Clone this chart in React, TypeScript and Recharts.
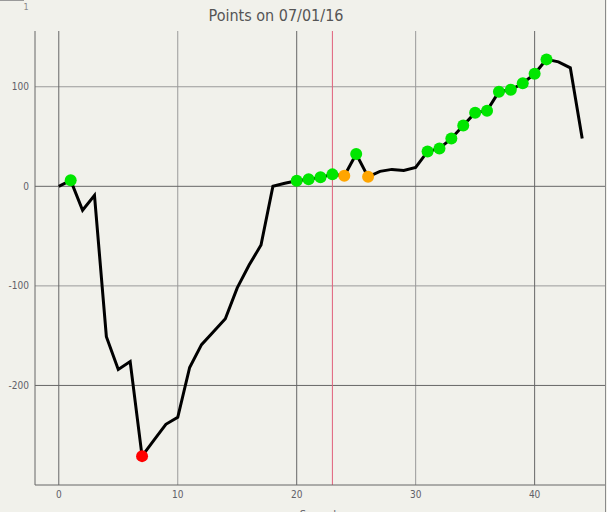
import React from 'react';
import { LineChart, Line, XAxis, YAxis, ReferenceLine } from 'recharts';

// seconds 0..44 and the points reading at each second
const seconds = [
  0, 1, 2, 3, 4, 5, 6, 7, 8, 9, 10, 11, 12, 13, 14, 15, 16, 17, 18, 19, 20, 21,
  22, 23, 24, 25, 26, 27, 28, 29, 30, 31, 32, 33, 34, 35, 36, 37, 38, 39, 40, 41,
  42, 43, 44,
];
const points = [
  0, 6, -24, -9, -151, -184, -176, -271, -255, -239, -232, -182, -159, -146, -133,
  -102, -79, -59, 0, 3, 5.5, 7, 9, 12, 10.5, 32.5, 9.5, 15, 17, 16, 19, 35, 38, 48,
  61, 74, 76, 95, 97, 103.5, 113, 127.5, 125, 119, 48,
];

// which seconds carry a marker
const greenAt = [1, 20, 21, 22, 23, 25, 31, 32, 33, 34, 35, 36, 37, 38, 39, 40, 41];
const orangeAt = [24, 26];
const redAt = [7];

const xTicks = [0, 10, 20, 30, 40];
const yTicks = [-200, -100, 0, 100];
const xMajor = [0, 20, 40];
const xMinor = [10, 30];
const yMajor = [0, -200];
const yMinor = [100, -100];
const cursorAt = 23;

const data = seconds.map((x, i) => ({ x, y: points[i] }));

const BG = '#f1f1eb';
const FONT = '"DejaVu Sans Condensed", "Liberation Sans", sans-serif';

const markColor = (x: number) => {
  if (greenAt.includes(x)) return '#00e600';
  if (orangeAt.includes(x)) return '#ffa500';
  if (redAt.includes(x)) return '#ff0000';
  return null;
};

const renderDot = (props: any) => {
  const c = markColor(props.payload.x);
  if (!c) return <g key={`d-${props.index}`} />;
  return <circle key={`d-${props.index}`} cx={props.cx} cy={props.cy} r={6} fill={c} />;
};

const tickStyle = { fill: '#606068', fontSize: 10, fontFamily: FONT };

export default function App() {
  return (
    <div
      style={{
        position: 'absolute',
        left: 0,
        top: 0,
        width: 607,
        height: 512,
        background: BG,
        overflow: 'hidden',
      }}
    >
      <div style={{ position: 'absolute', left: 0, top: 0, width: 24, height: 1, background: '#9a9a9a' }} />
      <div
        style={{
          position: 'absolute',
          left: 16,
          top: 2,
          width: 20,
          textAlign: 'center',
          fontFamily: FONT,
          fontSize: 9,
          lineHeight: '10px',
          color: '#8a8a8a',
        }}
      >
        1
      </div>
      <div
        style={{
          position: 'absolute',
          left: 176,
          top: 7,
          width: 200,
          textAlign: 'center',
          fontFamily: FONT,
          fontSize: 16,
          lineHeight: '17px',
          color: '#555',
        }}
      >
        Points on 07/01/16
      </div>
      <LineChart width={607} height={512} data={data} margin={{ top: 31, right: 1, bottom: 0, left: 0 }}>
        {xMinor.map((v) => (
          <ReferenceLine key={`xm${v}`} x={v} stroke="#9a9a9a" strokeWidth={1} zIndex={-50} />
        ))}
        {yMinor.map((v) => (
          <ReferenceLine key={`ym${v}`} y={v} stroke="#9a9a9a" strokeWidth={1} zIndex={-50} />
        ))}
        {xMajor.map((v) => (
          <ReferenceLine key={`xM${v}`} x={v} stroke="#666" strokeWidth={1} zIndex={-50} />
        ))}
        {yMajor.map((v) => (
          <ReferenceLine key={`yM${v}`} y={v} stroke="#666" strokeWidth={1} zIndex={-50} />
        ))}
        <ReferenceLine x={cursorAt} stroke="#e0607a" strokeWidth={1} zIndex={-50} />
        <XAxis
          dataKey="x"
          type="number"
          domain={[-2, 46]}
          ticks={xTicks}
          allowDataOverflow
          height={27}
          tickLine={false}
          tickSize={4}
          tickMargin={2}
          stroke="#666"
          tick={tickStyle}
          label={{
            value: 'Seconds',
            position: 'insideBottom',
            offset: -6,
            fill: '#606068',
            fontSize: 11,
            fontFamily: FONT,
          }}
        />
        <YAxis
          type="number"
          domain={[-300, 156]}
          ticks={yTicks}
          allowDataOverflow
          width={35}
          tickLine={false}
          tickSize={4}
          tickMargin={2}
          stroke="#666"
          tick={tickStyle}
        />
        <Line
          type="linear"
          dataKey="y"
          stroke="#000"
          strokeWidth={3}
          dot={renderDot}
          activeDot={false}
          isAnimationActive={false}
        />
      </LineChart>
      <div style={{ position: 'absolute', left: 605, top: 0, width: 1, height: 512, background: '#8a8a8a' }} />
    </div>
  );
}
